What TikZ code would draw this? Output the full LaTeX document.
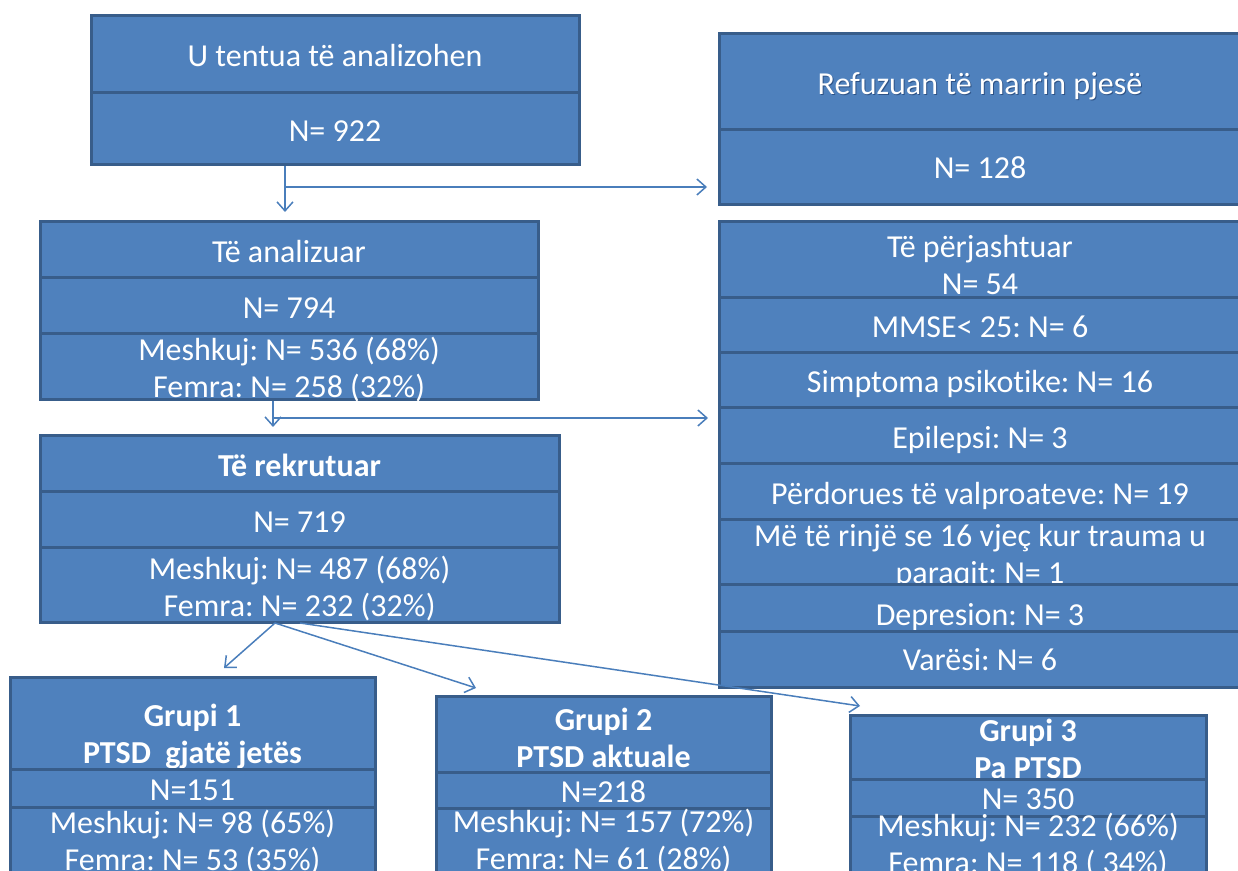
\documentclass[tikz,border=0pt]{standalone}
\usepackage{fontspec}
\setmainfont{Carlito}[Ligatures={NoCommon}]
\usetikzlibrary{arrows.meta}
\frenchspacing
\definecolor{boxfill}{HTML}{4F81BD}
\definecolor{boxline}{HTML}{385D8A}
\definecolor{linkcol}{HTML}{4A7EBB}
\definecolor{glowcol}{HTML}{1F3F6F}
\newcommand\ls{\rule[-0.23em]{0pt}{1.1em}}
\tikzset{
 rowst/.style={draw=boxline, fill=boxfill, line width=1.5pt, inner sep=0pt},
 textst/.style={text=white, inner sep=0pt, align=center, font=\fontsize{16pt}{17.5pt}\selectfont},
 conn/.style={draw=linkcol, line width=0.75pt, -{Straight Barb[length=4.5pt,width=8pt]}},
}
\newcommand\rowbox[7][1pt]{\node[rowst,minimum width={(#5-#3)*0.5pt},minimum height={(#6-#4)*0.5pt},label={[textst,yshift=-#1]center:{#7}}] (#2) at ({(#3+#5)/2},{(#4+#6)/2}) {};}
\begin{document}
\begin{tikzpicture}[x=0.5pt,y=-0.5pt]
\clip (0,0) rectangle (1238,871);
% A
\rowbox{A1}{91}{16}{579}{93}{\ls U tentua të analizohen}
\rowbox{A2}{91}{93}{579}{165}{\ls N= 922}
% B
\node[rowst,minimum width={(1241-719)*0.5pt},minimum height={(130-34)*0.5pt},
  label={[textst,text=glowcol,opacity=0.7,xshift=0.5pt,yshift=-1.5pt]center:{\ls Refuzuan të marrin pjesë}},
  label={[textst,yshift=-1pt]center:{\ls Refuzuan të marrin pjesë}}] (B1) at ({(719+1241)/2},{(34+130)/2}) {};
\rowbox[0.25pt]{B2}{719}{130}{1241}{205}{\ls N= 128}
% C
\rowbox{C1}{40}{222}{538}{278}{\ls Të analizuar}
\rowbox{C2}{40}{278}{538}{334}{\ls N= 794}
\rowbox{C3}{40}{334}{538}{400}{\ls Meshkuj: N= 536 (68\%)\\\ls Femra: N= 258 (32\%)}
% D
\rowbox{D1}{40}{436}{559}{492}{\ls\textbf{Të rekrutuar}}
\rowbox{D2}{40}{492}{559}{548}{\ls N= 719}
\rowbox{D3}{40}{548}{559}{623}{\ls Meshkuj: N= 487 (68\%)\\\ls Femra: N= 232 (32\%)}
% E
\rowbox[2.75pt]{E1}{719}{222}{1241}{298}{\ls Të përjashtuar\\\ls N= 54}
\rowbox[0.75pt]{E2}{719}{298}{1241}{353}{\ls MMSE< 25: N= 6}
\rowbox[0.75pt]{E3}{719}{353}{1241}{408}{\ls Simptoma psikotike: N= 16}
\rowbox{E4}{719}{408}{1241}{464}{\ls Epilepsi: N= 3}
\rowbox{E5}{719}{464}{1241}{520}{\ls Përdorues të valproateve: N= 19}
\rowbox[1.25pt]{E6}{719}{520}{1241}{585}{\ls Më të rinjë se 16 vjeç kur trauma u\\\ls paraqit: N= 1}
\rowbox[3.25pt]{E7}{719}{585}{1241}{632}{\ls Depresion: N= 3}
\rowbox[0pt]{E8}{719}{632}{1241}{688}{\ls Varësi: N= 6}
% G1
\rowbox[5.5pt]{G1a}{10}{678}{375}{769}{\ls\textbf{Grupi 1}\\\ls\textbf{PTSD~\ gjatë jetës}}
\rowbox{G1b}{10}{769}{375}{807}{\ls N=151}
\rowbox[0pt]{G1c}{10}{807}{375}{876}{\ls Meshkuj: N= 98 (65\%)\\\ls Femra: N= 53 (35\%)}
% G2
\rowbox[2.25pt]{G2a}{436}{696}{771}{772}{\ls\textbf{Grupi 2}\\\ls\textbf{PTSD aktuale}}
\rowbox{G2b}{436}{772}{771}{808}{\ls N=218}
\rowbox[0pt]{G2c}{436}{808}{771}{874}{\ls Meshkuj: N= 157 (72\%)\\\ls Femra: N= 61 (28\%)}
% G3
\rowbox[1.25pt]{G3a}{850}{715}{1206}{779}{\ls\textbf{Grupi 3}\\\ls\textbf{Pa PTSD}}
\rowbox{G3b}{850}{779}{1206}{816}{\ls N= 350}
\rowbox[0pt]{G3c}{850}{816}{1206}{873}{\ls Meshkuj: N= 232 (66\%)\\\ls Femra: N= 118 ( 34\%)}
% connector ends
\coordinate (a1) at (285,212);
\coordinate (b1) at (707,187);
\coordinate (c1) at (273,427);
\coordinate (e1) at (708,418);
\coordinate (d0) at (275,623);
\coordinate (d3) at (300,623);
\coordinate (g1) at (224,668);
\coordinate (g2) at (476,688);
\coordinate (g3) at (860,706);
% connectors
\draw[conn] (a1 |- A2.south) -- (a1);
\draw[conn] (a1 |- b1) -- (b1);
\draw[conn] (c1 |- C3.south) -- (c1);
\draw[conn] (c1 |- e1) -- (e1);
\draw[conn] (d0) -- (g1);
\draw[conn] (d0) -- (g2);
\draw[conn] (d3) -- (g3);
\end{tikzpicture}
\end{document}
